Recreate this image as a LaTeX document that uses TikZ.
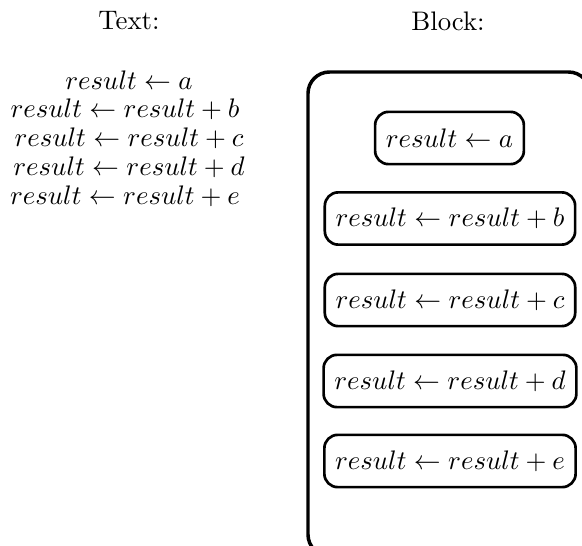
\documentclass[tikz,border=0pt]{standalone}
\usetikzlibrary{positioning}
\begin{document}
\begin{tikzpicture}[x=0.373pt,y=-0.373pt,
  heading/.style={inner sep=0pt},
  line/.style={inner sep=0pt},
  blk/.style={draw,line width=1pt,rounded corners=5pt,inner xsep=4pt,minimum height=19.5pt},
  outer/.style={draw,line width=1.3pt,rounded corners=8pt}]
\useasboundingbox (0,0) rectangle (582,546);
\node[heading] (t) at (129,21) {Text:};
\node[heading] (bl) at (448,21) {Block:};
\node[line] (la) at (129,80) {$result \leftarrow a$};
\node[line] (lb) at (125,109) {$result \leftarrow result + b$};
\node[line] (lc) at (129,138) {$result \leftarrow result + c$};
\node[line] (ld) at (129,167) {$result \leftarrow result + d$};
\node[line] (le) at (125,196) {$result \leftarrow result + e$};
\begin{scope}
\clip (0,0) rectangle (582,546);
\draw[outer] (308,72) rectangle (590,556);
\end{scope}
\node[blk] (ba) at (449.5,138) {$result \leftarrow a$};
\node[blk] (bb) at (450,218.5) {$result \leftarrow result + b$};
\node[blk] (bc) at (450,300) {$result \leftarrow result + c$};
\node[blk] (bd) at (450,381) {$result \leftarrow result + d$};
\node[blk] (be) at (450,461) {$result \leftarrow result + e$};
\end{tikzpicture}
\end{document}
